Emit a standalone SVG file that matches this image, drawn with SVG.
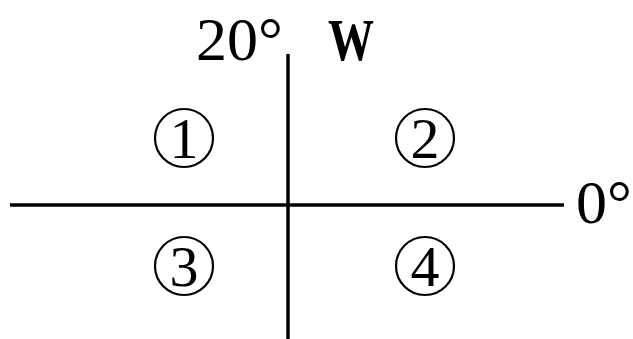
<svg xmlns="http://www.w3.org/2000/svg" width="633" height="339" viewBox="0 0 633 339">
<style>
.c{fill:none;stroke:#000;stroke-width:2.2}
.ax{stroke:#000;stroke-width:3.5}
</style>
<rect width="633" height="339" fill="#fff"/>
<g id="axes">
<line class="ax" x1="288" y1="54" x2="288" y2="339"/>
<line class="ax" x1="10" y1="205" x2="564" y2="205"/>
</g>
<g id="labels" font-family="Liberation Serif, Times New Roman, serif" fill="#000">
<text x="196" y="60" font-size="62">20°</text>
<text x="328" y="60" font-size="46" font-weight="bold" transform="translate(350 60) scale(1 1.3) translate(-350 -60)">W</text>
<text x="576" y="223" font-size="62">0°</text>
</g>
<g id="q1" font-family="Liberation Serif, Times New Roman, serif" font-size="58" text-anchor="middle"><circle class="c" cx="184" cy="138" r="29"/><text x="184" y="158">1</text></g>
<g id="q2" font-family="Liberation Serif, Times New Roman, serif" font-size="58" text-anchor="middle"><circle class="c" cx="425" cy="138" r="29"/><text x="425" y="158">2</text></g>
<g id="q3" font-family="Liberation Serif, Times New Roman, serif" font-size="58" text-anchor="middle"><circle class="c" cx="184" cy="266" r="29"/><text x="184" y="286">3</text></g>
<g id="q4" font-family="Liberation Serif, Times New Roman, serif" font-size="58" text-anchor="middle"><circle class="c" cx="425" cy="266" r="29"/><text x="425" y="286">4</text></g>
</svg>
